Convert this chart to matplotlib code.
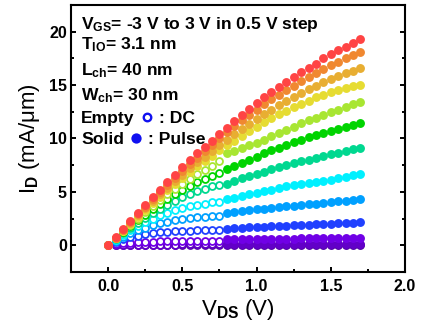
import matplotlib.pyplot as plt
from matplotlib.ticker import MultipleLocator

# fuente tipo Arial en negrita para todo el grafico
plt.rcParams['font.family'] = ['Liberation Sans', 'DejaVu Sans']
plt.rcParams['font.weight'] = 'bold'
plt.rcParams['mathtext.fontset'] = 'custom'
plt.rcParams['mathtext.rm'] = 'Liberation Sans:bold'
plt.rcParams['mathtext.it'] = 'Liberation Sans:bold'
plt.rcParams['mathtext.bf'] = 'Liberation Sans:bold'

# barrido de VDS (V)
vds_dc = [0.0, 0.05, 0.1, 0.15, 0.2, 0.25, 0.3, 0.35, 0.4, 0.45, 0.5, 0.55, 0.6, 0.65, 0.7, 0.75]
vds_pulse = [0.8, 0.85, 0.9, 0.95, 1.0, 1.05, 1.1, 1.15, 1.2, 1.25, 1.3, 1.35, 1.4, 1.45, 1.5,
             1.55, 1.6, 1.65, 1.7]
vds_full = vds_dc + vds_pulse

# corriente DC (mA/um), curvas abiertas
dc_m30 = [0, 0.0, 0.01, 0.01, 0.01, 0.01, 0.01, 0.01, 0.01, 0.01, 0.01, 0.01, 0.01, 0.01, 0.01, 0.01]
dc_m25 = [0, 0.02, 0.03, 0.04, 0.05, 0.05, 0.06, 0.06, 0.06, 0.06, 0.07, 0.07, 0.07, 0.07, 0.07, 0.07]
dc_m20 = [0, 0.1, 0.18, 0.24, 0.28, 0.31, 0.33, 0.35, 0.36, 0.37, 0.38, 0.39, 0.39, 0.4, 0.4, 0.4]
dc_m15 = [0, 0.3, 0.55, 0.75, 0.9, 1.05, 1.15, 1.22, 1.28, 1.32, 1.35, 1.37, 1.39, 1.4, 1.41, 1.41]
dc_m10 = [0, 0.4, 0.78, 1.1, 1.4, 1.65, 1.85, 2.05, 2.2, 2.35, 2.45, 2.55, 2.6, 2.65, 2.7, 2.73]
dc_m05 = [0, 0.5, 0.95, 1.4, 1.8, 2.15, 2.5, 2.8, 3.05, 3.3, 3.5, 3.65, 3.8, 3.9, 4.0, 4.07]
dc_p00 = [0, 0.6, 1.15, 1.65, 2.1, 2.55, 3.0, 3.4, 3.8, 4.15, 4.5, 4.8, 5.05, 5.3, 5.5, 5.65]
dc_p05 = [0, 0.65, 1.25, 1.8, 2.35, 2.85, 3.35, 3.85, 4.3, 4.75, 5.15, 5.55, 5.9, 6.2, 6.5, 6.75]
dc_p10 = [0, 0.68, 1.3, 1.9, 2.5, 3.1, 3.65, 4.2, 4.75, 5.25, 5.75, 6.2, 6.65, 7.05, 7.45, 7.85]

# corriente en pulso (mA/um), curvas rellenas
pulse_m30 = [0.0, 0.0, 0.0, 0.0, 0.0, 0.0, 0.0, 0.0, 0.0, 0.0, 0.0, 0.0, 0.0, 0.0, 0.0, 0.0, 0.0,
             0.0, 0.0]
pulse_m25 = [0.08, 0.08, 0.08, 0.09, 0.09, 0.09, 0.09, 0.1, 0.1, 0.1, 0.1, 0.1, 0.11, 0.11, 0.11,
             0.11, 0.12, 0.12, 0.12]
pulse_m20 = [0.55, 0.56, 0.57, 0.58, 0.59, 0.6, 0.6, 0.61, 0.62, 0.62, 0.63, 0.64, 0.64, 0.65,
             0.66, 0.66, 0.67, 0.68, 0.69]
pulse_m15 = [1.55, 1.6, 1.64, 1.68, 1.71, 1.74, 1.77, 1.8, 1.83, 1.86, 1.89, 1.92, 1.95, 1.98,
             2.01, 2.04, 2.07, 2.1, 2.13]
pulse_m10 = [3.0, 3.1, 3.2, 3.28, 3.35, 3.42, 3.5, 3.57, 3.64, 3.7, 3.77, 3.84, 3.9, 3.97, 4.03,
             4.1, 4.17, 4.23, 4.3]
pulse_m05 = [4.3, 4.45, 4.6, 4.75, 4.9, 5.05, 5.2, 5.35, 5.5, 5.6, 5.7, 5.8, 5.9, 6.0, 6.15, 6.3,
             6.4, 6.55, 6.68]
pulse_p00 = [5.75, 6.0, 6.25, 6.5, 6.7, 6.9, 7.1, 7.3, 7.5, 7.7, 7.85, 8.0, 8.2, 8.35, 8.5, 8.65,
             8.8, 9.0, 9.15]
pulse_p05 = [7.1, 7.4, 7.7, 8.0, 8.3, 8.6, 8.9, 9.15, 9.4, 9.65, 9.9, 10.1, 10.3, 10.5, 10.7,
             10.9, 11.1, 11.3, 11.45]
pulse_p10 = [8.6, 8.85, 9.1, 9.35, 9.6, 9.9, 10.2, 10.5, 10.8, 11.1, 11.4, 11.7, 11.95, 12.2,
             12.45, 12.7, 12.95, 13.2, 13.4]
pulse_p15 = [0, 0.68, 1.35, 2.0, 2.65, 3.3, 3.95, 4.55, 5.15, 5.75, 6.3, 6.85, 7.4, 7.9, 8.4,
             8.9, 9.35, 9.8, 10.25, 10.7, 11.1, 11.5, 11.9, 12.25, 12.6, 12.95, 13.25, 13.55,
             13.85, 14.1, 14.35, 14.55, 14.75, 14.9, 15.0]
pulse_p20 = [0, 0.7, 1.4, 2.1, 2.8, 3.45, 4.1, 4.75, 5.4, 6.0, 6.6, 7.2, 7.75, 8.3, 8.85, 9.4,
             9.9, 10.4, 10.9, 11.35, 11.8, 12.25, 12.7, 13.1, 13.5, 13.9, 14.25, 14.6, 14.95,
             15.25, 15.55, 15.85, 16.1, 16.35, 16.6]
pulse_p25 = [0, 0.72, 1.45, 2.15, 2.9, 3.6, 4.3, 5.0, 5.65, 6.3, 6.95, 7.6, 8.2, 8.8, 9.4, 10.0,
             10.6, 11.15, 11.7, 12.2, 12.7, 13.2, 13.65, 14.1, 14.55, 14.95, 15.35, 15.75, 16.1,
             16.5, 16.85, 17.2, 17.5, 17.8, 18.1]
pulse_p30 = [0, 0.75, 1.5, 2.25, 3.0, 3.75, 4.5, 5.2, 5.9, 6.6, 7.3, 7.95, 8.6, 9.2, 9.8, 10.4,
             11.0, 11.6, 12.2, 12.8, 13.35, 13.85, 14.35, 14.85, 15.3, 15.8, 16.2, 16.6, 17.0,
             17.5, 17.9, 18.3, 18.6, 18.95, 19.3]

# colores de VGS = -3 ... 3 V
colors = ['#4e00a0', '#6200c8', '#7000e6', '#2040ff', '#00a0ff', '#00f0ff', '#00d890',
          '#00d400', '#a8e632', '#e6dc32', '#e8ae32', '#f08830', '#ff4444']

dc_sets = [dc_m30, dc_m25, dc_m20, dc_m15, dc_m10, dc_m05, dc_p00, dc_p05, dc_p10]
pulse_sets = [pulse_m30, pulse_m25, pulse_m20, pulse_m15, pulse_m10, pulse_m05, pulse_p00,
              pulse_p05, pulse_p10, pulse_p15, pulse_p20, pulse_p25, pulse_p30]

fig = plt.figure(figsize=(4.25, 3.34), dpi=100)
ax = fig.add_axes([0.167, 0.186, 0.786, 0.799])

for color, ids in zip(colors, dc_sets):
    ax.plot(vds_dc, ids, 'o', ms=5.0, mfc='white', mec=color, mew=1.3, ls='none')

for color, ids in zip(colors, pulse_sets):
    xs = vds_full if len(ids) == len(vds_full) else vds_pulse
    ax.plot(xs, ids, 'o', ms=6.4, color=color, mew=0, ls='none')

ax.set_xlim(-0.25, 2.0)
ax.set_ylim(-2.5, 22.5)
ax.set_xticks([0.0, 0.5, 1.0, 1.5, 2.0])
ax.set_xticklabels(['0.0', '0.5', '1.0', '1.5', '2.0'])
ax.set_yticks([0, 5, 10, 15, 20])
ax.xaxis.set_minor_locator(MultipleLocator(0.25))
ax.yaxis.set_minor_locator(MultipleLocator(2.5))
ax.tick_params(which='both', direction='in', right=True, top=False, width=1.4, labelsize=11.5)
ax.tick_params(which='major', length=3.8)
ax.tick_params(which='minor', length=2.4)
ax.tick_params(axis='x', pad=5)
ax.tick_params(axis='y', pad=3)
for sp in ax.spines.values():
    sp.set_linewidth(1.5)

ax.set_xlabel('V$_{\\mathrm{DS}}$ (V)', fontsize=16, labelpad=2)
ax.set_ylabel('I$_{\\mathrm{D}}$ (mA/μm)', fontsize=16, labelpad=5)

# anotaciones de condiciones
tx = 81 / 425
fs = 12.6
fig.text(tx, 1 - 29 / 334, 'V$_{\\mathrm{GS}}$= -3 V to 3 V in 0.5 V step', fontsize=fs, va='baseline')
fig.text(tx, 1 - 49 / 334, 'T$_{\\mathrm{IO}}$= 3.1 nm', fontsize=fs, va='baseline')
fig.text(tx, 1 - 75 / 334, 'L$_{\\mathrm{ch}}$= 40 nm', fontsize=fs, va='baseline')
fig.text(tx, 1 - 100.7 / 334, 'W$_{\\mathrm{ch}}$= 30 nm', fontsize=fs, va='baseline')
fig.text(tx, 1 - 123.3 / 334, 'Empty', fontsize=fs, va='baseline')
fig.text(159 / 425, 1 - 123.3 / 334, ': DC', fontsize=fs, va='baseline')
fig.text(tx, 1 - 144.3 / 334, 'Solid', fontsize=fs, va='baseline')
fig.text(148 / 425, 1 - 144.3 / 334, ': Pulse', fontsize=fs, va='baseline')

# simbolos de leyenda
ax.plot([0.2266], [0.579], 'o', transform=ax.transAxes, ms=5.4, mfc='white', mec='#1010f0',
        mew=1.7, clip_on=False)
ax.plot([0.1946], [0.5007], 'o', transform=ax.transAxes, ms=7.4, color='#1010f0', mew=0,
        clip_on=False)

plt.savefig('out.png', dpi=100)
